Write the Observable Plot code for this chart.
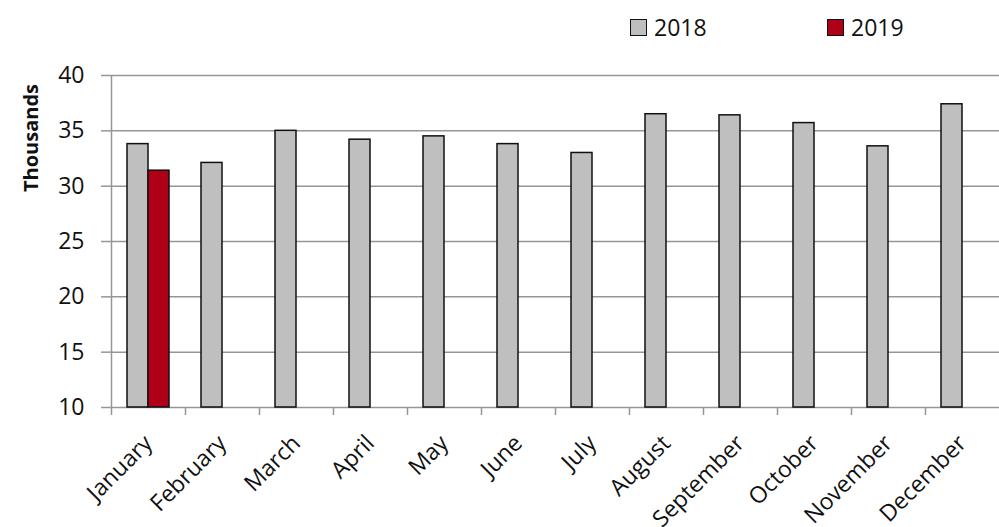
<!DOCTYPE html>
<html>
<head>
<meta charset="utf-8">
<script src="https://cdn.jsdelivr.net/npm/d3@7"></script>
<script src="https://cdn.jsdelivr.net/npm/@observablehq/plot@0.6"></script>
<style>
  body { margin: 0; background: #fff; font-family: "Open Sans", sans-serif; color: #111; }
  #wrap { position: relative; width: 999px; height: 527px; overflow: hidden; }
  #wrap svg { position: absolute; left: 0; top: 0; }
  .lg { position: absolute; display: flex; align-items: center; font-size: 23px; line-height: 1; }
  .lg .sw { width: 15px; height: 15px; border: 1.5px solid #111; margin-right: 7px; }
  .ylab { position: absolute; left: 30px; top: 138px; transform: translate(-50%, -50%) rotate(-90deg);
          font-weight: bold; font-size: 20px; white-space: nowrap; }
</style>
</head>
<body>
<div id="wrap"></div>
<script>
// ---- data ----
const months = ["January","February","March","April","May","June","July","August","September","October","November","December"];
const values2018 = [33.8, 32.1, 35.0, 34.2, 34.5, 33.8, 33.0, 36.5, 36.4, 35.7, 33.6, 37.4];
const months2019 = ["January"];
const values2019 = [31.4];
const yTicks = [10, 15, 20, 25, 30, 35, 40];
const seriesNames = ["2018", "2019"];
const seriesColors = ["#bfbfbf", "#b00018"];
const yLabel = "Thousands";

// ---- tables ----
const data2018 = months.map((m, i) => ({month: m, value: values2018[i]}));
const data2019 = months2019.map((m, i) => ({month: m, value: values2019[i]}));

const grid = "#969696";
const half = 37; // half band width in px

const chart = Plot.plot({
  width: 999,
  height: 527,
  marginLeft: 111,
  marginRight: 0,
  marginTop: 75,
  marginBottom: 120,
  style: {fontFamily: "Open Sans", background: "transparent", color: "#111", overflow: "visible"},
  x: {domain: months, padding: 0},
  y: {domain: [10, 40]},
  marks: [
    Plot.gridY(yTicks, {stroke: grid, strokeOpacity: 1, strokeWidth: 1.5}),
    Plot.axisY(yTicks, {tickSize: 10, tickPadding: 17, stroke: grid, strokeWidth: 1.5, fill: "#111", fontSize: 23, tickFormat: d => d, label: null}),
    // y axis line
    Plot.ruleX([months[0]], {x: d => d, dx: -half, y1: 10, y2: 40, stroke: grid, strokeWidth: 1.5}),
    // category boundary ticks
    Plot.ruleX(months, {x: d => d, dx: -half, y1: 10, y2: 10, insetBottom: -8, stroke: grid, strokeWidth: 1.5}),
    Plot.barY(data2018, {x: "month", y1: 10, y2: "value", fill: seriesColors[0], stroke: "#111", strokeWidth: 1.5, insetLeft: 16, insetRight: 37}),
    Plot.barY(data2019, {x: "month", y1: 10, y2: "value", fill: seriesColors[1], stroke: "#111", strokeWidth: 1.5, insetLeft: 37, insetRight: 16}),
    Plot.axisX(months, {tickSize: 0, tickRotate: -45, tickPadding: 32, fontSize: 23, fill: "#111", label: null})
  ]
});

const wrap = document.getElementById("wrap");
wrap.appendChild(chart);

// legend
const legendPos = [630, 827];
seriesNames.forEach((name, i) => {
  const el = document.createElement("div");
  el.className = "lg";
  el.style.left = legendPos[i] + "px";
  el.style.top = "16px";
  el.innerHTML = `<span class="sw" style="background:${seriesColors[i]}"></span><span>${name}</span>`;
  wrap.appendChild(el);
});

const yl = document.createElement("div");
yl.className = "ylab";
yl.textContent = yLabel;
wrap.appendChild(yl);
</script>
</body>
</html>
